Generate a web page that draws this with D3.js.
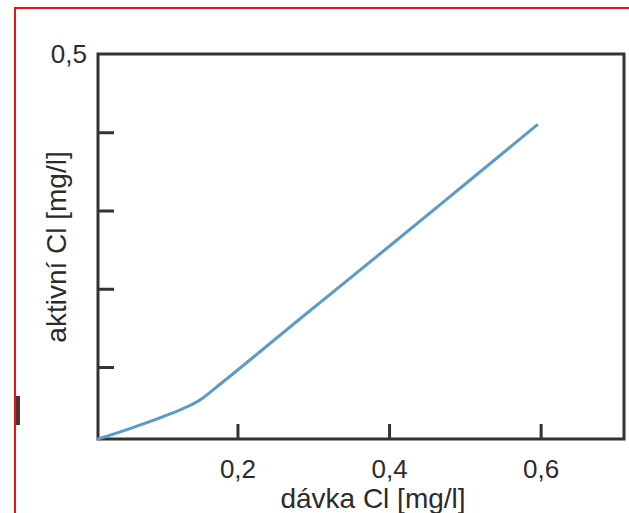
<!DOCTYPE html>
<html>
<head>
<meta charset="utf-8">
<script src="https://cdn.jsdelivr.net/npm/d3@7"></script>
<style>
  body { margin: 0; background: #fff; }
  svg { display: block; }
  text { font-family: "Liberation Sans", Arial, sans-serif; fill: #2b2b2b; }
</style>
</head>
<body>
<div id="chart"></div>
<script>
// curve values (dávka -> aktivní Cl)
const doseValues = [0.016, 0.06, 0.111, 0.151, 0.177, 0.283, 0.4, 0.507, 0.595];
const activeValues = [0.008, 0.022, 0.04, 0.058, 0.078, 0.162, 0.254, 0.339, 0.409];

// ticks
const xTicks = [0.2, 0.4, 0.6];
const xTickLabels = ["0,2", "0,4", "0,6"];
const yTicks = [0.1, 0.2, 0.3, 0.4, 0.5];
const yLabelTicks = [0.5];

const xTitle = "dávka Cl [mg/l]";
const yTitle = "aktivní Cl [mg/l]";

const width = 629;
const height = 513;
const margin = { top: 54, right: 5, bottom: 74, left: 98 };

const svg = d3
  .select("#chart")
  .append("svg")
  .attr("width", width)
  .attr("height", height);

// red scan border (left + top)
svg.append("path")
  .attr("d", "M15,513 V8 H629")
  .attr("fill", "none")
  .attr("stroke", "#f01010")
  .attr("stroke-width", 2);

// small dark mark at the left edge of the scan
svg.append("rect")
  .attr("x", 16).attr("y", 396)
  .attr("width", 4).attr("height", 29)
  .attr("fill", "#3a3a3a");

// scales
const x = d3.scaleLinear().domain([0.016, 0.71]).range([margin.left, width - margin.right]);
const y = d3.scaleLinear().domain([0.008, 0.5]).range([height - margin.bottom, margin.top]);

const x0 = x.range()[0], x1 = x.range()[1];
const y0 = y.range()[0], y1 = y.range()[1];

// frame
svg.append("rect")
  .attr("x", x0)
  .attr("y", y1)
  .attr("width", x1 - x0)
  .attr("height", y0 - y1)
  .attr("fill", "none")
  .attr("stroke", "#333")
  .attr("stroke-width", 3);

// x axis: inward ticks, labels below
const xAxis = d3.axisBottom(x)
  .tickValues(xTicks)
  .tickSize(-15)
  .tickFormat((d, i) => xTickLabels[i]);

const gx = svg.append("g")
  .attr("transform", `translate(0, ${y0})`)
  .call(xAxis);
gx.select(".domain").remove();
gx.selectAll(".tick line").attr("stroke", "#333").attr("stroke-width", 3);
gx.selectAll(".tick text")
  .attr("y", 39)
  .attr("dy", 0)
  .attr("font-size", "26px")
  .attr("font-family", "Liberation Sans, Arial, sans-serif")
  .attr("fill", "#2b2b2b");

// y axis: inward ticks, only 0,5 labelled
const yAxis = d3.axisLeft(y)
  .tickValues(yTicks)
  .tickSize(-16)
  .tickFormat((d) => (yLabelTicks.includes(d) ? d3.format(".1f")(d).replace(".", ",") : ""));

const gy = svg.append("g")
  .attr("transform", `translate(${x0}, 0)`)
  .call(yAxis);
gy.select(".domain").remove();
gy.selectAll(".tick line").attr("stroke", "#333").attr("stroke-width", 3);
gy.selectAll(".tick text")
  .attr("x", -11)
  .attr("dy", "0.33em")
  .attr("font-size", "26px")
  .attr("font-family", "Liberation Sans, Arial, sans-serif")
  .attr("fill", "#2b2b2b");
// the top tick sits on the frame, hide its line
gy.selectAll(".tick").filter((d) => d === 0.5).select("line").remove();

// curve
const line = d3.line()
  .x((d, i) => x(doseValues[i]))
  .y((d) => y(d))
  .curve(d3.curveMonotoneX);

svg.append("path")
  .datum(activeValues)
  .attr("d", line)
  .attr("fill", "none")
  .attr("stroke", "#5b9bc9")
  .attr("stroke-width", 3)
  .attr("stroke-linecap", "round");

// axis titles
svg.append("text")
  .attr("x", 373)
  .attr("y", 508)
  .attr("text-anchor", "middle")
  .attr("font-size", "28px")
  .text(xTitle);

svg.append("text")
  .attr("transform", "translate(66, 247) rotate(-90)")
  .attr("text-anchor", "middle")
  .attr("font-size", "28px")
  .text(yTitle);
</script>
</body>
</html>
